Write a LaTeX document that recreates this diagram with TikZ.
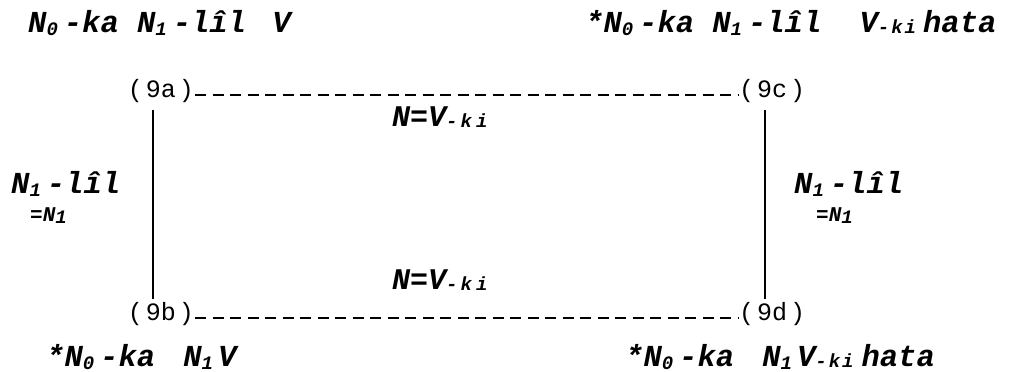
\documentclass[tikz,border=0pt]{standalone}
\usepackage{fontspec}
\newfontfamily\tw{Liberation Mono}
\newcommand\lowsub[1]{\raisebox{-0.12em}{\fontsize{19}{19}\selectfont #1}}
\newcommand\kisub{\raisebox{-0.05em}{\fontsize{19}{19}\selectfont -\hspace{2pt}k\hspace{2pt}i}}
\newcommand\kiwide{\raisebox{-0.05em}{\fontsize{19}{19}\selectfont -\hspace{3pt}k\hspace{4pt}i}}
\tikzset{
  gloss/.style={inner sep=0pt, anchor=base west, font=\tw\bfseries\itshape\fontsize{30.5}{30}\selectfont},
  midgloss/.style={inner sep=0pt, anchor=base west, font=\tw\bfseries\itshape\fontsize{30}{30}\selectfont},
  tinygloss/.style={inner sep=0pt, anchor=base west, font=\tw\bfseries\itshape\fontsize{21}{21}\selectfont},
  ex/.style={inner sep=1pt, font=\tw\fontsize{25}{25}\selectfont},
  dashline/.style={line width=2.4pt, dash pattern=on 11pt off 6.5pt},
  solidline/.style={line width=2.8pt}
}
\begin{document}
\begin{tikzpicture}[x=1pt,y=-1pt]
\useasboundingbox (0,0) rectangle (1010,372);
% corner sentences
\node[gloss] (tl) at (28,32) {N\lowsub{0}\hspace{6pt}-ka N\lowsub{1}\hspace{6pt}-lîl\hspace{8pt} V};
\node[gloss] (tr) at (585,32) {*N\lowsub{0}\hspace{6pt}-ka N\lowsub{1}\hspace{6pt}-lîl\hspace{20pt} V\kisub\hspace{7pt}hata};
\node[gloss] (bl) at (46,366) {*N\lowsub{0}\hspace{6pt}-ka\hspace{10pt} N\lowsub{1}\,V};
\node[gloss] (br) at (625,366) {*N\lowsub{0}\hspace{6pt}-ka\hspace{10pt} N\lowsub{1}\hspace{5pt}V\kisub\hspace{8pt}hata};
% example labels
\node[ex] (a) at (161,91) {(\hspace{3pt}9a\hspace{3pt})};
\node[ex] (c) at (772,91) {(\hspace{3pt}9c\hspace{3pt})};
\node[ex] (b) at (161,314) {(\hspace{3pt}9b\hspace{3pt})};
\node[ex] (d) at (772,314) {(\hspace{3pt}9d\hspace{3pt})};
% connectors
\draw[dashline] ([yshift=-4pt]a.east) -- ([yshift=-4pt]c.west);
\draw[dashline] ([yshift=-4pt]b.east) -- ([yshift=-4pt]d.west);
\draw[solidline] ([xshift=-8pt,yshift=-6pt]a.south) -- ([xshift=-8pt,yshift=2pt]b.north);
\draw[solidline] ([xshift=-7pt,yshift=-6pt]c.south) -- ([xshift=-7pt,yshift=2pt]d.north);
% relation labels
\node[midgloss] (ht) at (392,126) {N=V\kiwide};
\node[midgloss] (hb) at (392,289) {N=V\kiwide};
\node[gloss] (vl) at (11,193) {N\lowsub{1}\hspace{6pt}-lîl};
\node[tinygloss] (vl2) at (30,221) {=N\lowsub{1}};
\node[gloss] (vr) at (794,193) {N\lowsub{1}\hspace{6pt}-lîl};
\node[tinygloss] (vr2) at (816,221) {=N\lowsub{1}};
\end{tikzpicture}
\end{document}
